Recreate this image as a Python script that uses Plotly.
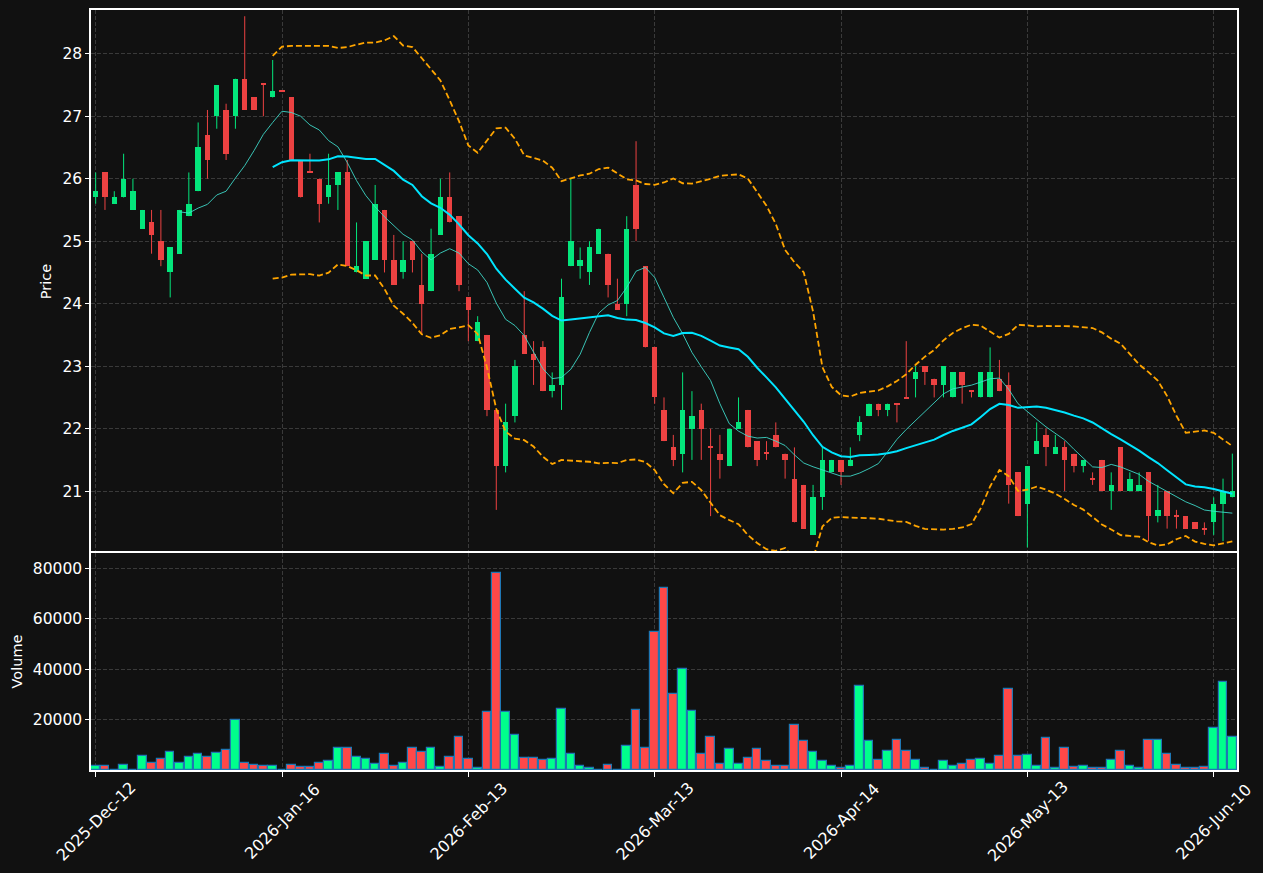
import numpy as np
import pandas as pd
import plotly.graph_objects as go
from plotly.subplots import make_subplots

# ---------------- data ----------------
opens = [25.7, 26.1, 25.6, 25.7, 25.5, 25.2, 25.3, 25.0, 24.5, 24.8,
         25.4, 25.8, 26.7, 27.0, 27.1, 27.0, 27.6, 27.3, 27.52, 27.3,
         27.42, 27.3, 26.3, 26.12, 26.0, 25.7, 25.9, 26.1, 24.5, 24.4,
         24.7, 25.5, 24.7, 24.5, 25.0, 24.3, 24.2, 25.1, 25.7, 25.4,
         24.1, 23.4, 23.5, 22.3, 21.4, 22.2, 23.5, 23.2, 23.3, 22.6,
         22.7, 24.6, 24.6, 24.5, 24.8, 24.8, 24.0, 24.0, 25.9, 24.6,
         23.3, 22.3, 21.7, 21.6, 22.0, 22.3, 21.71, 21.6, 21.4, 22.0,
         22.3, 21.8, 21.61, 21.9, 21.6, 21.2, 21.1, 20.3, 20.9, 21.3,
         21.5, 21.4, 21.9, 22.2, 22.4, 22.3, 22.39, 22.51, 22.8, 23.0,
         22.8, 22.7, 22.5, 22.9, 22.61, 22.5, 22.5, 22.8, 22.7, 21.3,
         20.8, 21.6, 21.9, 21.6, 21.7, 21.6, 21.4, 21.19, 21.5, 21.0,
         21.7, 21.0, 21.0, 21.3, 20.6, 21.0, 20.61, 20.6, 20.5, 20.41,
         20.5, 20.8, 20.9]
highs = [26.1, 26.1, 25.8, 26.4, 26.0, 25.5, 25.5, 25.5, 24.9, 25.5,
         26.1, 26.9, 27.1, 27.5, 27.2, 27.6, 28.6, 27.3, 27.52, 27.9,
         27.42, 27.3, 26.3, 26.4, 26.0, 26.4, 26.1, 26.3, 25.3, 25.0,
         25.9, 25.5, 25.1, 25.0, 25.0, 24.8, 25.2, 26.0, 26.1, 25.4,
         24.1, 23.8, 23.5, 22.3, 22.4, 23.1, 24.2, 23.4, 23.4, 22.9,
         24.4, 26.0, 24.9, 25.0, 25.2, 24.8, 24.4, 25.4, 26.6, 24.6,
         23.3, 22.5, 21.9, 22.9, 22.6, 22.4, 22.0, 21.9, 22.0, 22.5,
         22.3, 21.8, 21.8, 22.1, 21.6, 21.7, 21.1, 21.1, 21.7, 21.5,
         21.5, 21.7, 22.2, 22.4, 22.4, 22.4, 22.39, 23.4, 23.0, 23.0,
         22.8, 23.0, 22.9, 22.9, 22.61, 22.9, 23.3, 23.1, 22.9, 21.3,
         21.4, 22.1, 22.0, 21.9, 21.8, 21.6, 21.5, 21.3, 21.5, 21.3,
         21.7, 21.3, 21.3, 21.3, 21.1, 21.0, 20.7, 20.6, 20.5, 20.5,
         20.9, 21.2, 21.6]
lows = [25.6, 25.5, 25.6, 25.7, 25.5, 25.2, 24.8, 24.6, 24.1, 24.8,
        25.4, 25.8, 26.0, 26.8, 26.3, 26.8, 27.1, 27.1, 27.0, 27.3,
        27.4, 26.3, 25.7, 26.1, 25.3, 25.6, 25.5, 24.6, 24.5, 24.4,
        24.7, 24.5, 24.3, 24.4, 24.5, 23.5, 24.2, 25.1, 25.3, 24.2,
        23.4, 23.4, 22.2, 20.7, 21.3, 22.1, 23.2, 22.7, 22.6, 22.5,
        22.3, 24.6, 24.4, 24.3, 24.8, 24.1, 23.9, 23.8, 25.0, 23.3,
        22.4, 21.8, 21.4, 21.3, 21.5, 21.5, 20.6, 21.2, 21.4, 22.0,
        21.7, 21.4, 21.5, 21.7, 21.2, 20.5, 20.4, 20.3, 20.7, 21.3,
        21.1, 21.4, 21.8, 22.2, 22.2, 22.2, 22.1, 22.49, 22.5, 22.7,
        22.5, 22.5, 22.5, 22.4, 22.5, 22.5, 22.5, 22.6, 20.8, 20.6,
        20.1, 21.6, 21.4, 21.6, 21.0, 21.3, 21.3, 21.1, 21.0, 20.7,
        21.0, 21.0, 21.0, 20.2, 20.5, 20.4, 20.4, 20.4, 20.4, 20.3,
        20.3, 20.2, 20.9]
closes = [25.8, 25.7, 25.7, 26.0, 25.8, 25.5, 25.1, 24.7, 24.9, 25.5,
          25.6, 26.5, 26.3, 27.5, 26.4, 27.6, 27.1, 27.1, 27.5, 27.4,
          27.4, 26.3, 25.7, 26.1, 25.6, 25.9, 26.1, 24.6, 24.6, 25.0,
          25.6, 24.7, 24.3, 24.7, 24.7, 24.0, 24.8, 25.7, 25.3, 24.3,
          23.9, 23.7, 22.3, 21.4, 22.1, 23.0, 23.2, 23.1, 22.6, 22.7,
          24.1, 25.0, 24.7, 24.9, 25.2, 24.3, 23.9, 25.2, 25.2, 23.3,
          22.5, 21.8, 21.5, 22.3, 22.2, 22.0, 21.7, 21.5, 22.0, 22.1,
          21.7, 21.5, 21.6, 21.7, 21.5, 20.5, 20.4, 20.9, 21.5, 21.5,
          21.3, 21.5, 22.1, 22.4, 22.3, 22.4, 22.38, 22.49, 22.9, 22.9,
          22.7, 23.0, 22.9, 22.7, 22.59, 22.9, 22.9, 22.6, 21.1, 20.6,
          21.4, 21.8, 21.7, 21.7, 21.5, 21.4, 21.5, 21.18, 21.0, 21.1,
          21.0, 21.2, 21.1, 20.6, 20.7, 20.6, 20.59, 20.4, 20.4, 20.39,
          20.8, 21.0, 21.0]
volumes = [1400, 1400, 200, 2100, 200, 5400, 2900, 4300, 7000, 2900,
           5100, 6200, 5100, 6600, 7800, 19700, 2900, 2100, 1700, 1700,
           100, 2100, 1000, 1000, 2900, 3500, 8600, 8600, 5100, 4300,
           2500, 6200, 1400, 2900, 8600, 7000, 8600, 1000, 5100, 12900,
           4300, 600, 22800, 77900, 22800, 14000, 4700, 4700, 3900, 4300,
           24000, 6200, 1700, 600, 200, 2100, 200, 9700, 23600, 8600,
           54700, 72000, 30000, 39900, 23200, 6200, 13200, 2500, 8200, 2500,
           4700, 8200, 3500, 1400, 1700, 17700, 11300, 7000, 3500, 1400,
           600, 1400, 33100, 11300, 3900, 7400, 11700, 7400, 3900, 600,
           200, 3500, 1700, 2500, 3900, 4300, 2500, 5400, 32300, 5400,
           5800, 1400, 12500, 600, 8600, 1000, 1700, 600, 600, 3900,
           7400, 1700, 600, 11700, 11700, 6200, 2100, 600, 600, 1000,
           16500, 34700, 13200]
tick_positions = [0, 20, 40, 60, 80, 100, 120]
tick_labels = ["2025-Dec-12", "2026-Jan-16", "2026-Feb-13", "2026-Mar-13",
               "2026-Apr-14", "2026-May-13", "2026-Jun-10"]
price_ticks = [21, 22, 23, 24, 25, 26, 27, 28]
volume_ticks = [20000, 40000, 60000, 80000]

# ---------------- derived indicators ----------------
n = len(closes)
xs = list(range(n))
cs = pd.Series(closes, dtype=float)
sma10 = cs.rolling(10).mean()
sma20 = cs.rolling(20).mean()
std20 = cs.rolling(20).std(ddof=0)
bb_up = sma20 + 2 * std20
bb_lo = sma20 - 2 * std20

UP_C = "#04e67c"
DN_C = "#ec4242"
UP_V = "#00ff8c"
DN_V = "#ff4848"
BG = "#111111"
GRID = "#3a3a3a"
FONT = "DejaVu Sans"
TICK_SIZE = 15.5

is_up = [c >= o for o, c in zip(opens, closes)]
body_base = [min(o, c) for o, c in zip(opens, closes)]
body_h = [max(abs(c - o), 0.016) for o, c in zip(opens, closes)]
body_col = [UP_C if u else DN_C for u in is_up]
vol_col = [UP_V if u else DN_V for u in is_up]

fig = make_subplots(rows=2, cols=1, shared_xaxes=True, vertical_spacing=0,
                    row_heights=[543, 217])

# wicks
for want, col in ((True, UP_C), (False, DN_C)):
    wx, wy = [], []
    for i in range(n):
        if is_up[i] == want:
            wx += [i, i, None]
            wy += [lows[i], highs[i], None]
    fig.add_trace(go.Scatter(x=wx, y=wy, mode="lines", line=dict(color=col, width=1),
                             hoverinfo="skip", showlegend=False), row=1, col=1)

# bodies
fig.add_trace(go.Bar(x=xs, y=body_h, base=body_base, width=0.58,
                     marker=dict(color=body_col, line=dict(width=0)),
                     showlegend=False), row=1, col=1)

# moving averages and bands
fig.add_trace(go.Scatter(x=xs, y=sma10, mode="lines",
                         line=dict(color="rgba(64,224,208,0.85)", width=1),
                         showlegend=False), row=1, col=1)
fig.add_trace(go.Scatter(x=xs, y=sma20, mode="lines",
                         line=dict(color="#00e5ff", width=2),
                         showlegend=False), row=1, col=1)
for band in (bb_up, bb_lo):
    fig.add_trace(go.Scatter(x=xs, y=band, mode="lines",
                             line=dict(color="#ffa500", width=1.8, dash="6px,3px"),
                             showlegend=False), row=1, col=1)

# volume
fig.add_trace(go.Bar(x=xs, y=volumes, width=0.92,
                     marker=dict(color=vol_col, line=dict(color="#1f77b4", width=1.2)),
                     showlegend=False), row=2, col=1)

axis_common = dict(showline=True, linecolor="white", linewidth=1.5,
                   gridcolor=GRID, griddash="4px,2px", gridwidth=1, zeroline=False,
                   tickfont=dict(color="white", size=TICK_SIZE, family=FONT))

fig.update_xaxes(axis_common)
fig.update_yaxes(axis_common, mirror=True)

# top panel: x line only on top edge (the shared divider comes from the lower axis)
fig.update_xaxes(range=[-0.5, 122.5], tickmode="array", tickvals=tick_positions,
                 showticklabels=False, ticks="", side="top", mirror=False,
                 row=1, col=1)
fig.update_xaxes(range=[-0.5, 122.5], tickmode="array", tickvals=tick_positions,
                 showticklabels=False, ticks="outside", ticklen=5, tickcolor="white",
                 mirror=True, row=2, col=1)
fig.update_yaxes(range=[20.01, 28.70], tickmode="array", tickvals=price_ticks,
                 ticks="outside", ticklen=4, tickcolor="white",
                 title=dict(text="Price", standoff=7,
                            font=dict(color="white", size=14.5, family=FONT)),
                 row=1, col=1)
fig.update_yaxes(range=[0, 86000], tickmode="array", tickvals=volume_ticks,
                 tickformat="d", ticks="outside", ticklen=4, tickcolor="white",
                 title=dict(text="Volume", standoff=7,
                            font=dict(color="white", size=14.5, family=FONT)),
                 row=2, col=1)

# rotated, centred date labels under the volume axis
for pos, lab in zip(tick_positions, tick_labels):
    fig.add_annotation(x=pos, xref="x2", y=0, yref="paper", yshift=-51,
                       text=lab, textangle=-45, showarrow=False,
                       xanchor="center", yanchor="middle",
                       font=dict(color="white", size=16, family=FONT))

fig.update_layout(width=1263, height=873, paper_bgcolor=BG, plot_bgcolor=BG,
                  margin=dict(l=91, r=26, t=10, b=103), showlegend=False,
                  barmode="overlay", bargap=0, hovermode=False,
                  font=dict(family=FONT, color="white", size=14))

fig.write_html("out.html")
